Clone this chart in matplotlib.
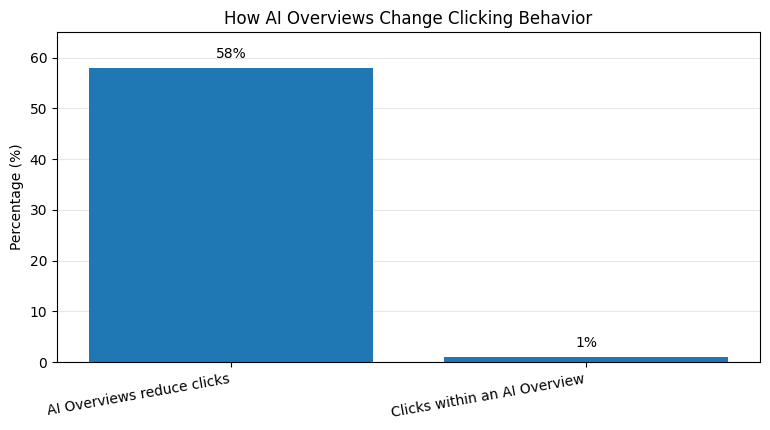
import matplotlib.pyplot as plt

categories = ["AI Overviews reduce clicks", "Clicks within an AI Overview"]
values = [58, 1]
labels = ["58%", "1%"]

fig, ax = plt.subplots(figsize=(7.7, 4.3), dpi=100)
fig.subplots_adjust(left=0.074, right=0.987, top=0.925, bottom=0.158)

bars = ax.bar(categories, values, color="#1f77b4", zorder=2)
for b, lab in zip(bars, labels):
    ax.annotate(lab, (b.get_x() + b.get_width() / 2, b.get_height()),
                xytext=(0, 5), textcoords="offset points", ha="center", va="bottom")

ax.set_ylim(0, 65)
ax.set_ylabel("Percentage (%)")
ax.set_title("How AI Overviews Change Clicking Behavior")
ax.grid(axis="y", alpha=0.3, zorder=0)
plt.setp(ax.get_xticklabels(), rotation=10, ha="right")

fig.savefig("out.png")
